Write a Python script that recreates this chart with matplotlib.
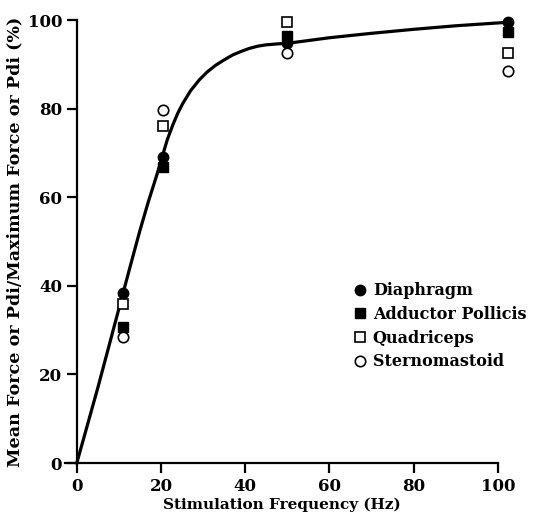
import matplotlib
matplotlib.use("Agg")
import matplotlib.pyplot as plt

plt.rcParams['font.family'] = ['DejaVu Serif']
plt.rcParams['font.weight'] = 'bold'

# Stimulation frequencies (Hz) as placed in the figure
freq = [11, 20.5, 50, 102.5]

diaphragm = [38.4, 69.0, 94.8, 99.5]
adductor = [30.8, 66.8, 96.4, 97.4]
quadriceps = [36.0, 76.0, 99.6, 92.5]
sternomastoid = [28.4, 79.6, 92.5, 88.5]

# fitted curve
curve_x = [0, 5, 11, 13, 15, 17, 19, 20.4, 21.5, 22.8, 24, 25.2, 27, 29.1, 31, 33, 35, 37, 39, 41,
           43, 45, 47.5, 50.5, 60, 70, 80, 90, 102.5]
curve_y = [0, 17, 38.4, 45.5, 52.5, 59, 65, 69.5, 73, 76.3, 79, 81.2, 84, 86.5, 88.3, 89.8, 91.0,
           92.1, 92.9, 93.6, 94.1, 94.4, 94.6, 94.8, 96.0, 97.0, 97.9, 98.7, 99.5]

xticks = [0, 20, 40, 60, 80, 100]
yticks = [0, 20, 40, 60, 80, 100]

fig = plt.figure(figsize=(5.35, 5.16), dpi=100)
ax = fig.add_axes([0.1215, 0.1027, 0.809, 0.8585])

ax.plot(curve_x, curve_y, color='black', lw=2.3, clip_on=False, zorder=2, solid_joinstyle='round')

ax.plot(freq, diaphragm, 'o', color='black', ms=7.5, clip_on=False, zorder=3, label='Diaphragm')
ax.plot(freq, adductor, 's', color='black', ms=6.5, clip_on=False, zorder=3, label='Adductor Pollicis')
ax.plot(freq, quadriceps, 's', mfc='white', mec='black', mew=1.2, ms=6.5, clip_on=False, zorder=4, label='Quadriceps')
ax.plot(freq, sternomastoid, 'o', mfc='white', mec='black', mew=1.2, ms=7.5, clip_on=False, zorder=4, label='Sternomastoid')

ax.set_xlim(-2.8, 100)
ax.set_ylim(0, 100)
ax.spines['left'].set_position(('data', 0))
ax.spines['top'].set_visible(False)
ax.spines['right'].set_visible(False)
for s in ['left', 'bottom']:
    ax.spines[s].set_linewidth(1.6)

ax.set_xticks(xticks)
ax.set_yticks(yticks)
ax.tick_params(direction='out', length=7, width=1.6, labelsize=12)

ax.set_xlabel('Stimulation Frequency (Hz)', fontsize=11, fontweight='bold', labelpad=2)
ax.set_ylabel('Mean Force or Pdi/Maximum Force or Pdi (%)', fontsize=12.6, fontweight='bold', labelpad=3)

ax.legend(loc='upper left', bbox_to_anchor=(0.652, 0.426), frameon=False, fontsize=11.5,
          handlelength=0.6, handletextpad=0.5, labelspacing=0.42, borderpad=0)

fig.savefig('out.png', dpi=100)
